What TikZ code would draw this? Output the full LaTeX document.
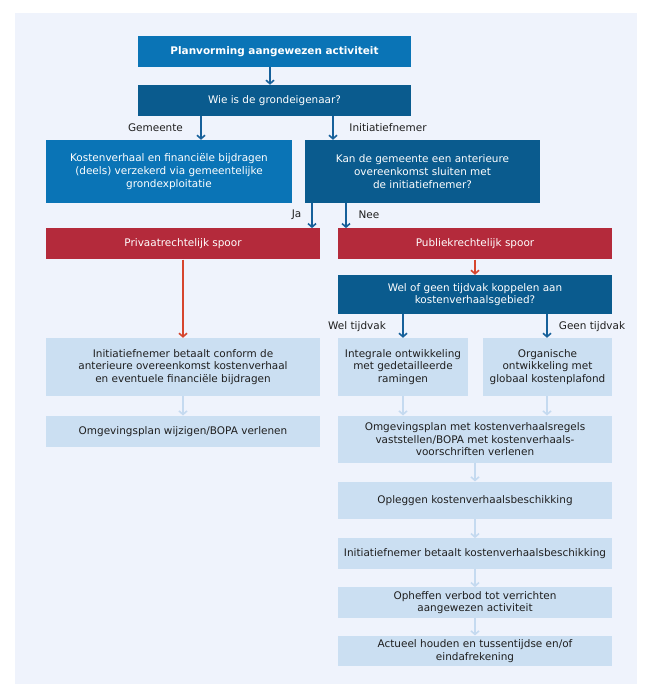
\documentclass[tikz,border=0pt]{standalone}
\usepackage{fontspec}
\setmainfont{DejaVu Sans}
\usetikzlibrary{arrows.meta,calc}
\definecolor{panelbg}{HTML}{EFF3FC}
\definecolor{midblue}{HTML}{0A74B6}
\definecolor{darkblue}{HTML}{0A5B8E}
\definecolor{redbox}{HTML}{B42A3B}
\definecolor{lightbox}{HTML}{CBDFF2}
\definecolor{arrdark}{HTML}{16609A}
\definecolor{arrred}{HTML}{D6452D}
\definecolor{arrlight}{HTML}{C5DAF0}
\definecolor{txtdark}{HTML}{1E1E1E}
\begin{document}
\begin{tikzpicture}[x=1bp,y=-1bp,
  base/.style={inner sep=0pt, align=center, font=\fontsize{10.5}{12.8}\selectfont},
  midbox/.style={base, fill=midblue, text=white},
  darkbox/.style={base, fill=darkblue, text=white},
  rbox/.style={base, fill=redbox, text=white},
  lbox/.style={base, fill=lightbox, text=txtdark},
  lbl/.style={base, text=txtdark},
  tip/.style={-{Straight Barb[length=3.5bp,width=8bp,line width=1.6bp]}},
  arrd/.style={tip, line width=1.8bp, draw=arrdark},
  arrr/.style={tip, line width=1.8bp, draw=arrred},
  arrl/.style={tip, line width=1.8bp, draw=arrlight}
]
\useasboundingbox (0,0) rectangle (656,691);
\fill[panelbg] (15,13) rectangle (637,684);

% column coordinates
\coordinate (c270) at (270,0);
\coordinate (c201) at (201,0);
\coordinate (c333) at (333,0);
\coordinate (c312) at (312,0);
\coordinate (c346) at (346,0);
\coordinate (c183) at (183,0);
\coordinate (c475) at (475,0);
\coordinate (c403) at (403,0);
\coordinate (c547) at (547,0);

% nodes
\node[midbox, minimum width=273bp, minimum height=31bp, font=\fontsize{10.5}{12.8}\selectfont\bfseries] (plan) at (274.5,51.2) {Planvorming aangewezen activiteit};
\node[darkbox, minimum width=273bp, minimum height=30.7bp] (wie) at (274.5,100.3) {Wie is de grondeigenaar?};
\node[midbox, minimum width=246bp, minimum height=63bp] (kost) at (169,171.5) {Kostenverhaal en financiële bijdragen\\(deels) verzekerd via gemeentelijke\\grondexploitatie};
\node[darkbox, minimum width=235bp, minimum height=63bp] (kan) at (422.5,171.5) {Kan de gemeente een anterieure\\overeenkomst sluiten met\\de initiatiefnemer?};
\node[rbox, minimum width=274bp, minimum height=31bp] (priv) at (183,243.8) {Privaatrechtelijk spoor};
\node[rbox, minimum width=274bp, minimum height=31bp] (publ) at (475,243.8) {Publiekrechtelijk spoor};
\node[darkbox, minimum width=274bp, minimum height=39bp] (wel) at (475,294.5) {Wel of geen tijdvak koppelen aan\\kostenverhaalsgebied?};
\node[lbox, minimum width=274bp, minimum height=58bp] (betaalt) at (183,367) {Initiatiefnemer betaalt conform de\\anterieure overeenkomst kostenverhaal\\en eventuele financiële bijdragen};
\node[lbox, minimum width=130bp, minimum height=58bp] (integ) at (403,367) {Integrale ontwikkeling\\met gedetailleerde\\ramingen};
\node[lbox, minimum width=129bp, minimum height=58bp] (organ) at (547.5,367) {Organische\\ontwikkeling met\\globaal kostenplafond};
\node[lbox, minimum width=274bp, minimum height=31bp] (wijz) at (183,431.2) {Omgevingsplan wijzigen/BOPA verlenen};
\node[lbox, minimum width=274bp, minimum height=47bp] (omgmet) at (475,439.2) {Omgevingsplan met kostenverhaalsregels\\vaststellen/BOPA met kostenverhaals-\\voorschriften verlenen};
\node[lbox, minimum width=274bp, minimum height=37.3bp] (opleg) at (475,500.3) {Opleggen kostenverhaalsbeschikking};
\node[lbox, minimum width=274bp, minimum height=30.4bp] (initkv) at (475,553.5) {Initiatiefnemer betaalt kostenverhaalsbeschikking};
\node[lbox, minimum width=274bp, minimum height=30.4bp] (ophef) at (475,602.5) {Opheffen verbod tot verrichten\\aangewezen activiteit};
\node[lbox, minimum width=274bp, minimum height=30.3bp] (actueel) at (475,650.8) {Actueel houden en tussentijdse en/of\\eindafrekening};

% labels
\node[lbl] (lgem) at (155.5,128) {Gemeente};
\node[lbl] (linit) at (388,128) {Initiatiefnemer};
\node[lbl] (lja) at (296.5,215) {Ja};
\node[lbl] (lnee) at (369,215) {Nee};
\node[lbl] (lwel) at (357,327) {Wel tijdvak};
\node[lbl] (lgeen) at (592,327) {Geen tijdvak};

% connectors
\draw[arrd] (plan.south -| c270) -- (wie.north -| c270);
\draw[arrd] (wie.south -| c201) -- (kost.north -| c201);
\draw[arrd] (wie.south -| c333) -- (kan.north -| c333);
\draw[arrd] (kan.south -| c312) -- (priv.north -| c312);
\draw[arrd] (kan.south -| c346) -- (publ.north -| c346);
\draw[arrr] (priv.south -| c183) -- (betaalt.north -| c183);
\draw[arrr] (publ.south -| c475) -- (wel.north -| c475);
\draw[arrd] (wel.south -| c403) -- (integ.north -| c403);
\draw[arrd] (wel.south -| c547) -- (organ.north -| c547);
\draw[arrl] (betaalt.south -| c183) -- (wijz.north -| c183);
\draw[arrl] (integ.south -| c403) -- (omgmet.north -| c403);
\draw[arrl] (organ.south -| c547) -- (omgmet.north -| c547);
\draw[arrl] (omgmet.south -| c475) -- (opleg.north -| c475);
\draw[arrl] (opleg.south -| c475) -- (initkv.north -| c475);
\draw[arrl] (initkv.south -| c475) -- (ophef.north -| c475);
\draw[arrl] (ophef.south -| c475) -- (actueel.north -| c475);
\end{tikzpicture}
\end{document}
